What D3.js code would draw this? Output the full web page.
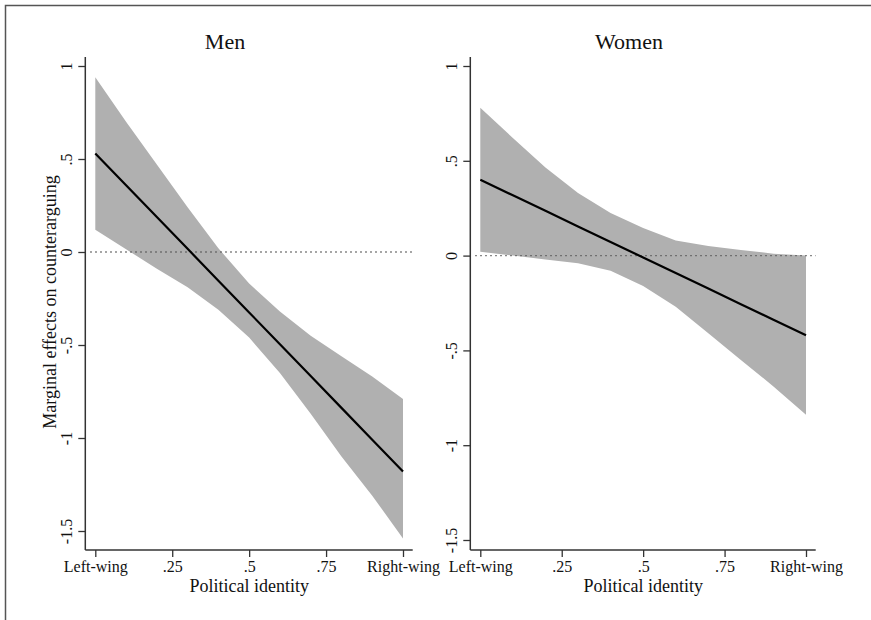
<!DOCTYPE html>
<html>
<head>
<meta charset="utf-8">
<script src="https://cdn.jsdelivr.net/npm/d3@7"></script>
<style>
  body { margin: 0; background: #fff; }
  svg text { font-family: "Liberation Serif", "Times New Roman", serif; fill: #111; }
</style>
</head>
<body>
<svg id="chart" width="871" height="620"></svg>
<script>
// Political identity positions (margins evaluated at 0, .1, ... 1)
const xVals = [0, 0.1, 0.2, 0.3, 0.4, 0.5, 0.6, 0.7, 0.8, 0.9, 1];

// Men: marginal effect and 95% CI
const menEst = [0.53, 0.359, 0.188, 0.017, -0.154, -0.325, -0.496, -0.667, -0.838, -1.009, -1.18];
const menLo  = [0.12, 0.015, -0.09, -0.19, -0.31, -0.46, -0.65, -0.87, -1.10, -1.31, -1.54];
const menHi  = [0.94, 0.70, 0.47, 0.24, 0.02, -0.17, -0.32, -0.45, -0.56, -0.67, -0.79];

// Women: marginal effect and 95% CI
const womenEst = [0.40, 0.318, 0.236, 0.154, 0.072, -0.01, -0.092, -0.174, -0.256, -0.338, -0.42];
const womenLo  = [0.02, 0.00, -0.02, -0.04, -0.08, -0.16, -0.27, -0.41, -0.55, -0.69, -0.84];
const womenHi  = [0.78, 0.62, 0.465, 0.33, 0.225, 0.145, 0.08, 0.05, 0.03, 0.01, 0.00];

// Axis ticks
const yTicks = [1, 0.5, 0, -0.5, -1, -1.5];
const yTickLabels = ["1", ".5", "0", "-.5", "-1", "-1.5"];
const xTicks = [0, 0.25, 0.5, 0.75, 1];
const xTickLabels = ["Left-wing", ".25", ".5", ".75", "Right-wing"];

const svg = d3.select("#chart");

// outer frame (right and bottom edges fall outside the picture)
svg.append("rect")
    .attr("x", 5.5).attr("y", 5.5)
    .attr("width", 900).attr("height", 700)
    .attr("fill", "none")
    .attr("stroke", "#555")
    .attr("stroke-width", 1.5);

function drawPanel(cfg) {
    const x = d3.scaleLinear().domain([0, 1]).range(cfg.xRange);
    const y = d3.scaleLinear().domain([1, -1.5]).range(cfg.yRange);
    const g = svg.append("g");

    const rows = xVals.map((v, i) => ({ x: v, est: cfg.est[i], lo: cfg.lo[i], hi: cfg.hi[i] }));

    // confidence band
    g.append("path")
        .datum(rows)
        .attr("fill", "#b0b0b0")
        .attr("d", d3.area().x(d => x(d.x)).y0(d => y(d.lo)).y1(d => y(d.hi)));

    // reference line at zero
    g.append("line")
        .attr("x1", cfg.axisX + 5).attr("x2", cfg.xEnd)
        .attr("y1", y(0)).attr("y2", y(0))
        .attr("stroke", "#555")
        .attr("stroke-width", 1.4)
        .attr("stroke-dasharray", "1.4 3.6");

    // marginal effect line
    g.append("path")
        .datum(rows)
        .attr("fill", "none")
        .attr("stroke", "#000")
        .attr("stroke-width", 2.2)
        .attr("d", d3.line().x(d => x(d.x)).y(d => y(d.est)));

    // y axis
    const yAxis = g.append("g")
        .attr("transform", `translate(${cfg.axisX},0)`)
        .call(d3.axisLeft(y)
            .tickValues(yTicks)
            .tickSize(7)
            .tickFormat((d, i) => yTickLabels[i]));
    yAxis.select(".domain").remove();
    yAxis.selectAll("line").attr("stroke", "#333").attr("stroke-width", 1.3);
    yAxis.selectAll("text")
        .attr("x", null).attr("dy", null)
        .attr("transform", "translate(-13,0) rotate(-90)")
        .attr("text-anchor", "middle")
        .style("font-size", "16px");

    // x axis
    const xAxis = g.append("g")
        .attr("transform", `translate(0,${cfg.axisY})`)
        .call(d3.axisBottom(x)
            .tickValues(xTicks)
            .tickSize(7)
            .tickFormat((d, i) => xTickLabels[i]));
    xAxis.select(".domain").remove();
    xAxis.selectAll("line").attr("stroke", "#333").attr("stroke-width", 1.3);
    xAxis.selectAll("text")
        .attr("y", 22).attr("dy", null)
        .style("font-size", "16px");

    // axis lines
    g.append("line")
        .attr("x1", cfg.axisX).attr("x2", cfg.axisX)
        .attr("y1", 57).attr("y2", cfg.axisY)
        .attr("stroke", "#333").attr("stroke-width", 1.5);
    g.append("line")
        .attr("x1", cfg.axisX).attr("x2", cfg.xEnd)
        .attr("y1", cfg.axisY).attr("y2", cfg.axisY)
        .attr("stroke", "#333").attr("stroke-width", 1.5);

    // x axis title
    g.append("text")
        .attr("x", x(0.5))
        .attr("y", 592)
        .attr("text-anchor", "middle")
        .style("font-size", "18px")
        .text("Political identity");

    // panel title
    g.append("text")
        .attr("x", cfg.titleX)
        .attr("y", 49)
        .attr("text-anchor", "middle")
        .style("font-size", "22px")
        .text(cfg.title);
}

drawPanel({
    title: "Men", titleX: 225,
    est: menEst, lo: menLo, hi: menHi,
    xRange: [95.3, 403], yRange: [66, 531],
    axisX: 85.3, axisY: 550, xEnd: 412.7
});

drawPanel({
    title: "Women", titleX: 629,
    est: womenEst, lo: womenLo, hi: womenHi,
    xRange: [480.3, 806], yRange: [66, 540],
    axisX: 470.3, axisY: 550, xEnd: 815.7
});

// shared y axis title
svg.append("text")
    .attr("transform", "translate(56,302) rotate(-90)")
    .attr("text-anchor", "middle")
    .style("font-size", "18px")
    .text("Marginal effects on counterarguing");
</script>
</body>
</html>
